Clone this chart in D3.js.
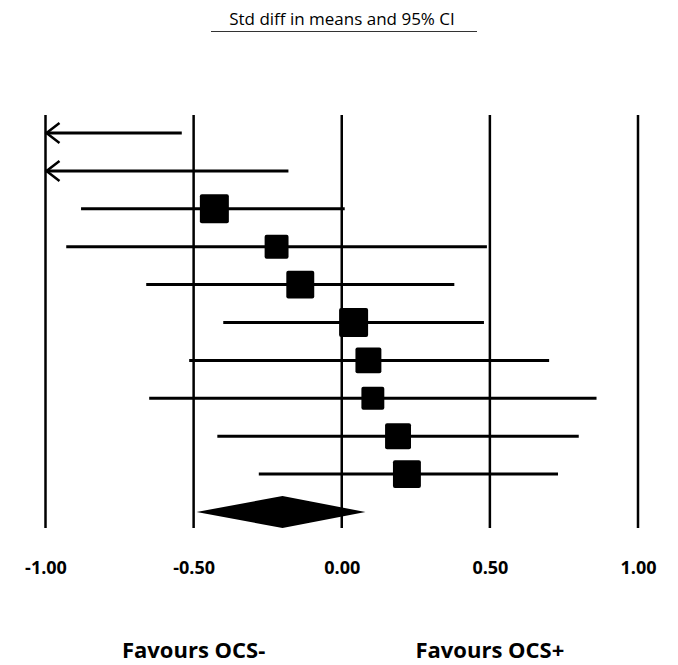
<!DOCTYPE html>
<html>
<head>
<meta charset="utf-8">
<script src="https://d3js.org/d3.v7.min.js"></script>
<style>
  body { margin: 0; background: #fff; }
  #chart { width: 678px; height: 665px; }
</style>
</head>
<body>
<div id="chart"></div>
<script>
// study rows (top to bottom) - point estimate, lower and upper 95% CI
const studies = ["s1", "s2", "s3", "s4", "s5", "s6", "s7", "s8", "s9", "s10"];
const estimates = [-1.2, -1.05, -0.43, -0.22, -0.14, 0.04, 0.09, 0.105, 0.19, 0.22];
const lowers = [-1.87, -1.93, -0.88, -0.93, -0.66, -0.4, -0.515, -0.65, -0.42, -0.28];
const uppers = [-0.54, -0.18, 0.01, 0.49, 0.38, 0.48, 0.7, 0.86, 0.8, 0.73];
const weights = [10, 9, 12.5, 8.5, 11.6, 12.5, 10, 7.8, 10, 11.6];

const summary = { est: -0.2, lo: -0.49, hi: 0.08 };

const tickValues = [-1, -0.5, 0, 0.5, 1];
const titleText = "Std diff in means and 95% CI";
const favourLabels = [
  { at: -0.5, text: "Favours OCS-" },
  { at: 0.5, text: "Favours OCS+" },
];

const width = 678;
const height = 665;

const svg = d3
  .select("#chart")
  .append("svg")
  .attr("width", width)
  .attr("height", height);

// SCALES
const x = d3.scaleLinear().domain([-1, 1]).range([45.5, 638]);

const y = d3
  .scalePoint()
  .domain([...studies, "summary"])
  .range([133, 512]);

const size = d3
  .scaleSqrt()
  .domain([0, d3.max(weights)])
  .range([0, 29]);

const clip = (v) => Math.max(-1, Math.min(1, v));

// TITLE
svg
  .append("text")
  .attr("x", 342)
  .attr("y", 25)
  .attr("text-anchor", "middle")
  .attr("font-family", "Open Sans, sans-serif")
  .attr("font-size", "17px")
  .attr("fill", "#000")
  .text(titleText);

svg
  .append("line")
  .attr("x1", 211)
  .attr("x2", 477)
  .attr("y1", 31.5)
  .attr("y2", 31.5)
  .attr("stroke", "#333")
  .attr("stroke-width", 1);

// VERTICAL REFERENCE LINES
svg
  .append("g")
  .selectAll("line")
  .data(tickValues)
  .enter()
  .append("line")
  .attr("x1", (d) => x(d))
  .attr("x2", (d) => x(d))
  .attr("y1", 115)
  .attr("y2", 528)
  .attr("stroke", "#000")
  .attr("stroke-width", 2.5);

// AXIS LABELS
const axis = svg
  .append("g")
  .attr("transform", "translate(0,558)")
  .call(
    d3
      .axisBottom(x)
      .tickValues(tickValues)
      .tickSize(0)
      .tickFormat((d) => d.toFixed(2))
  );

axis.select(".domain").remove();
axis
  .selectAll("text")
  .attr("font-family", "Open Sans, sans-serif")
  .attr("font-size", "18px")
  .attr("font-weight", "bold")
  .attr("fill", "#000");

// CI LINES
const rows = studies.map((s, i) => ({
  id: s,
  est: estimates[i],
  lo: lowers[i],
  hi: uppers[i],
  w: weights[i],
}));

const g = svg.append("g");

g.selectAll("line.ci")
  .data(rows)
  .enter()
  .append("line")
  .attr("class", "ci")
  .attr("x1", (d) => x(clip(d.lo)))
  .attr("x2", (d) => x(clip(d.hi)))
  .attr("y1", (d) => y(d.id))
  .attr("y2", (d) => y(d.id))
  .attr("stroke", "#000")
  .attr("stroke-width", 3);

// arrows where the CI runs past -1
g.selectAll("path.arrow")
  .data(rows.filter((d) => d.lo < -1))
  .enter()
  .append("path")
  .attr("class", "arrow")
  .attr("d", (d) => {
    const x0 = x(-1) + 1;
    const y0 = y(d.id);
    return `M${x0 + 13},${y0 - 10}L${x0},${y0}L${x0 + 13},${y0 + 10}`;
  })
  .attr("fill", "none")
  .attr("stroke", "#000")
  .attr("stroke-width", 2.5);

// squares (only when the estimate is on the scale)
g.selectAll("rect")
  .data(rows.filter((d) => d.est >= -1 && d.est <= 1))
  .enter()
  .append("rect")
  .attr("x", (d) => x(d.est) - size(d.w) / 2)
  .attr("y", (d) => y(d.id) - size(d.w) / 2)
  .attr("width", (d) => size(d.w))
  .attr("height", (d) => size(d.w))
  .attr("rx", 2)
  .attr("fill", "#000");

// SUMMARY DIAMOND
const sy = y("summary");
svg
  .append("path")
  .attr(
    "d",
    `M${x(summary.lo)},${sy}L${x(summary.est)},${sy - 16}L${x(summary.hi)},${sy}L${x(summary.est)},${sy + 16}Z`
  )
  .attr("fill", "#000");

// FAVOURS LABELS
svg
  .append("g")
  .selectAll("text")
  .data(favourLabels)
  .enter()
  .append("text")
  .attr("x", (d) => x(d.at))
  .attr("y", 658)
  .attr("text-anchor", "middle")
  .attr("font-family", "Open Sans, sans-serif")
  .attr("font-size", "22px")
  .attr("font-weight", "bold")
  .attr("fill", "#000")
  .text((d) => d.text);
</script>
</body>
</html>
